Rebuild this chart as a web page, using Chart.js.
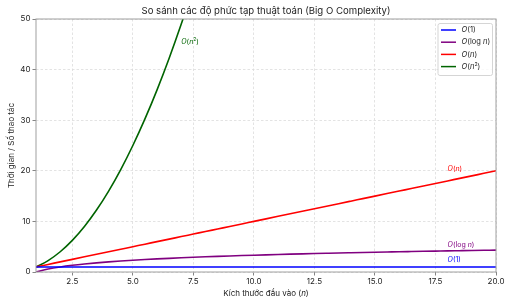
<!DOCTYPE html>
<html><head><meta charset="utf-8">
<script src="https://cdn.jsdelivr.net/npm/chart.js@4.4.0/dist/chart.umd.min.js"></script>
<style>html,body{margin:0;padding:0;background:#fff}#c{display:block}</style>
</head><body>
<canvas id="c" width="512" height="307"></canvas>
<script>
const nValues = [1,1.5,2,2.5,3,3.5,4,4.5,5,5.5,6,6.5,7,7.5,8,8.5,9,9.5,10,10.5,11,11.5,12,12.5,13,13.5,14,14.5,15,15.5,16,16.5,17,17.5,18,18.5,19,19.5,20];
const constValues = [1,1,1,1,1,1,1,1,1,1,1,1,1,1,1,1,1,1,1,1,1,1,1,1,1,1,1,1,1,1,1,1,1,1,1,1,1,1,1];
const logValues = [0,0.585,1,1.322,1.585,1.807,2,2.170,2.322,2.459,2.585,2.700,2.807,2.907,3,3.087,3.170,3.248,3.322,3.392,3.459,3.524,3.585,3.644,3.700,3.755,3.807,3.858,3.907,3.954,4,4.044,4.087,4.129,4.170,4.209,4.248,4.286,4.322];
const linearValues = [1,1.5,2,2.5,3,3.5,4,4.5,5,5.5,6,6.5,7,7.5,8,8.5,9,9.5,10,10.5,11,11.5,12,12.5,13,13.5,14,14.5,15,15.5,16,16.5,17,17.5,18,18.5,19,19.5,20];
const quadValues = [1,2.25,4,6.25,9,12.25,16,20.25,25,30.25,36,42.25,49,56.25,64,72.25,81,90.25,100,110.25,121,132.25,144,156.25,169,182.25,196,210.25,225,240.25,256,272.25,289,306.25,324,342.25,361,380.25,400];
const xTicks = [2.5,5,7.5,10,12.5,15,17.5,20];
const yTicks = [0,10,20,30,40,50];
const titleText = "So sánh các độ phức tạp thuật toán (Big O Complexity)";
const yLabel = "Thời gian / Số thao tác";

const FONT = "Inter, 'Noto Sans', sans-serif";
const series = [
  {name:[["O",1],["(1)",0]], values:constValues, color:"#0000ff", note:[18,2.4]},
  {name:[["O",1],["(log ",0],["n",1],[")",0]], values:logValues, color:"#800080", note:[18,5.4]},
  {name:[["O",1],["(",0],["n",1],[")",0]], values:linearValues, color:"#ff0000", note:[18,20.4]},
  {name:[["O",1],["(",0],["n",1],["2",2],[")",0]], values:quadValues, color:"#006400", note:[7.0,45.5]}
];

function drawRich(ctx, parts, x, y, size, color, align) {
  let w = 0;
  for (const [t, st] of parts) {
    ctx.font = (st===1?"italic ":"") + (st===2? size*0.7 : size) + "px " + FONT;
    w += ctx.measureText(t).width;
  }
  let cx = align === "center" ? x - w/2 : x;
  ctx.fillStyle = color;
  ctx.textBaseline = "middle";
  ctx.textAlign = "left";
  for (const [t, st] of parts) {
    ctx.font = (st===1?"italic ":"") + (st===2? size*0.7 : size) + "px " + FONT;
    ctx.fillText(t, cx, st===2 ? y - size*0.35 : y);
    cx += ctx.measureText(t).width;
  }
}

const overlay = {
  id: "overlay",
  afterDraw(chart) {
    const ctx = chart.ctx, a = chart.chartArea;
    const xs = chart.scales.x, ys = chart.scales.y;
    ctx.save();
    ctx.strokeStyle = "#a0a0a0"; ctx.lineWidth = 1;
    ctx.strokeRect(a.left, a.top, a.right - a.left, a.bottom - a.top);
    ctx.fillStyle = "#222"; ctx.font = "9.6px " + FONT;
    ctx.textAlign = "center"; ctx.textBaseline = "middle";
    ctx.fillText(titleText, (a.left + a.right)/2, 11);
    drawRich(ctx, [["Kích thước đầu vào (",0],["n",1],[")",0]], (a.left+a.right)/2, 294, 8, "#222", "center");
    ctx.save();
    ctx.translate(12, (a.top + a.bottom)/2);
    ctx.rotate(-Math.PI/2);
    ctx.fillStyle = "#222"; ctx.font = "8px " + FONT;
    ctx.textAlign = "center"; ctx.textBaseline = "middle";
    ctx.fillText(yLabel, 0, 0);
    ctx.restore();
    for (const s of series) {
      drawRich(ctx, s.name, xs.getPixelForValue(s.note[0]), ys.getPixelForValue(s.note[1]), 7, s.color, "left");
    }
    const lx = 438, ly = 23.5, lw = 54.5, lh = 52;
    ctx.fillStyle = "rgba(255,255,255,0.8)";
    ctx.strokeStyle = "#d5d5d5"; ctx.lineWidth = 1;
    ctx.beginPath();
    if (ctx.roundRect) ctx.roundRect(lx, ly, lw, lh, 2); else ctx.rect(lx, ly, lw, lh);
    ctx.fill(); ctx.stroke();
    series.forEach((s, i) => {
      const yy = 30 + i * 12.2;
      ctx.strokeStyle = s.color; ctx.lineWidth = 1.5;
      ctx.beginPath(); ctx.moveTo(441, yy); ctx.lineTo(456, yy); ctx.stroke();
      drawRich(ctx, s.name, 461.5, yy, 7.5, "#222", "left");
    });
    ctx.restore();
  }
};

new Chart(document.getElementById("c"), {
  type: "line",
  data: {
    datasets: series.map(s => ({
      label: s.name.map(p => p[0]).join(""),
      data: nValues.map((n, i) => ({x: n, y: s.values[i]})),
      borderColor: s.color,
      borderWidth: 1.6,
      pointRadius: 0,
      fill: false,
      cubicInterpolationMode: "monotone"
    }))
  },
  options: {
    responsive: false,
    animation: false,
    devicePixelRatio: 1,
    layout: {padding: {left: 0, right: 16, top: 19, bottom: 0}},
    plugins: {legend: {display: false}, title: {display: false}, tooltip: {enabled: false}},
    scales: {
      x: {
        type: "linear", min: 1, max: 20,
        afterFit: s => { s.height = 35; },
        afterBuildTicks: s => { s.ticks = xTicks.map(v => ({value: v})); },
        ticks: {callback: v => Number(v).toFixed(1), font: {size: 8, family: FONT}, color: "#222", padding: 1, maxRotation: 0, autoSkip: false},
        grid: {color: "#dcdcdc", lineWidth: 0.8, tickLength: 3.5, tickColor: "#666", tickWidth: 0.8},
        border: {display: false, dash: [2.5, 2]}
      },
      y: {
        type: "linear", min: 0, max: 50,
        afterFit: s => { s.width = 36; },
        afterBuildTicks: s => { s.ticks = yTicks.map(v => ({value: v})); },
        ticks: {callback: v => String(v), font: {size: 8, family: FONT}, color: "#222", padding: 2},
        grid: {color: "#dcdcdc", lineWidth: 0.8, tickLength: 3.5, tickColor: "#666", tickWidth: 0.8},
        border: {display: false, dash: [2.5, 2]}
      }
    }
  },
  plugins: [overlay]
});
</script>
</body></html>
